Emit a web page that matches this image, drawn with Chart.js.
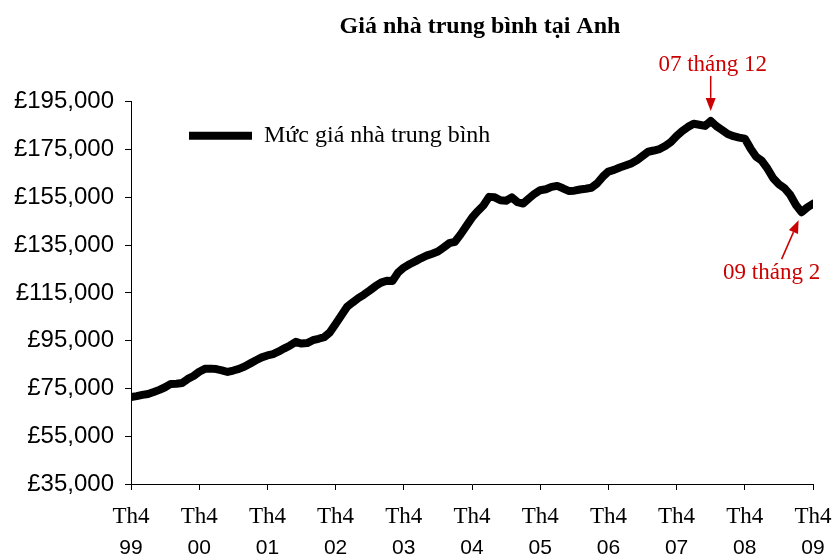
<!DOCTYPE html>
<html>
<head>
<meta charset="utf-8">
<title>Giá nhà trung bình tại Anh</title>
<script src="https://cdn.jsdelivr.net/npm/chart.js@4.4.1/dist/chart.umd.min.js"></script>
<style>
  html, body { margin: 0; padding: 0; background: #fff; }
  canvas { display: block; }
</style>
</head>
<body>
<canvas id="housePrice" width="832" height="558"></canvas>
<script>
const chartTitle = "Giá nhà trung bình tại Anh";
const seriesLabel = "Mức giá nhà trung bình";
const tickMonth = "Th4";
const tickYears = ["99", "00", "01", "02", "03", "04", "05", "06", "07", "08", "09"];
const yTicks = [35000, 55000, 75000, 95000, 115000, 135000, 155000, 175000, 195000];
const peakNote = "07 tháng 12";
const troughNote = "09 tháng 2";

// monthly average price, Th4 1999 .. Th4 2009
const prices = [
  71400, 71800, 72300, 72700, 73500, 74400, 75500, 76900, 77000, 77300, 79000, 80200,
  82000, 83200, 83300, 83100, 82600, 81900, 82500, 83200, 84200, 85500, 86800, 88000,
  88800, 89400, 90500, 91800, 93000, 94500, 93800, 94000, 95200, 95800, 96500, 98500,
  102000, 105500, 109100, 111000, 112800, 114300, 116000, 117800, 119300, 120100, 120000, 123500,
  125600, 127000, 128200, 129500, 130600, 131400, 132300, 134000, 135800, 136400, 139500, 143000,
  146500, 149200, 151600, 155200, 155000, 153800, 153600, 155000, 153000, 152400, 154500, 156500,
  158000, 158400, 159400, 159800, 158800, 157700, 157800, 158300, 158600, 159000, 160800, 163600,
  165800, 166500, 167500, 168300, 169200, 170500, 172300, 174100, 174600, 175200, 176500, 178200,
  180700, 182800, 184500, 185800, 185400, 184900, 187000, 184800, 183200, 181500, 180600, 180000,
  179600, 175500, 172000, 170300, 167000, 163000, 160500, 158800, 156000, 151800, 148800, 150800,
  152300
];

const serif = "'Liberation Serif', 'Times New Roman', serif";
const sans = "'Liberation Sans', Arial, sans-serif";
const noteRed = "#cc0000";

function drawArrow(ctx, x1, y1, x2, y2) {
  const a = Math.atan2(y2 - y1, x2 - x1);
  const len = 13, half = 5;
  const bx = x2 - Math.cos(a) * len;
  const by = y2 - Math.sin(a) * len;
  ctx.beginPath();
  ctx.moveTo(x1, y1);
  ctx.lineTo(bx, by);
  ctx.stroke();
  ctx.beginPath();
  ctx.moveTo(x2, y2);
  ctx.lineTo(bx + Math.sin(a) * half, by - Math.cos(a) * half);
  ctx.lineTo(bx - Math.sin(a) * half, by + Math.cos(a) * half);
  ctx.closePath();
  ctx.fill();
}

// red notes at the peak and at the low point after it
const notesPlugin = {
  id: "notes",
  afterDatasetsDraw(chart) {
    const ctx = chart.ctx;
    const pts = chart.getDatasetMeta(0).data;
    const peakIdx = prices.indexOf(Math.max(...prices));
    const troughIdx = prices.indexOf(Math.min(...prices.slice(peakIdx)), peakIdx);
    const peak = pts[peakIdx];
    const trough = pts[troughIdx];
    ctx.save();
    ctx.fillStyle = noteRed;
    ctx.strokeStyle = noteRed;
    ctx.lineWidth = 1.5;
    ctx.font = "23px " + serif;
    ctx.textAlign = "center";
    ctx.textBaseline = "alphabetic";
    ctx.fillText(peakNote, peak.x + 2, peak.y - 50);
    drawArrow(ctx, peak.x, peak.y - 45, peak.x, peak.y - 10);
    ctx.fillText(troughNote, trough.x - 30, trough.y + 67);
    drawArrow(ctx, trough.x - 20, trough.y + 47, trough.x - 3, trough.y + 8);
    ctx.restore();
  }
};

// legend inside the plot (top-left), title centred a bit right of the plot centre
const placeBoxes = {
  id: "placeBoxes",
  afterLayout(chart) {
    chart.legend.left = chart.chartArea.left + 58;
    chart.legend.top = chart.chartArea.top + 22;
    chart.titleBlock.left += 16;
  }
};

const yearTicks = (scale) => {
  scale.ticks = tickYears.map((y, i) => ({ value: i * 12 }));
};

const ctx = document.getElementById("housePrice").getContext("2d");
new Chart(ctx, {
  type: "line",
  data: {
    datasets: [
      {
        label: seriesLabel,
        data: prices.map((v, i) => ({ x: i, y: v })),
        borderColor: "#000",
        backgroundColor: "#000",
        borderWidth: 8,
        borderJoinStyle: "round",
        borderCapStyle: "round",
        tension: 0,
        pointRadius: 0,
        fill: false,
      },
    ],
  },
  options: {
    responsive: false,
    animation: false,
    layout: { padding: { left: 0, right: 19, top: 0, bottom: 0 } },
    plugins: {
      title: {
        display: true,
        fullSize: false,
        text: chartTitle,
        color: "#000",
        font: { family: serif, size: 24, weight: "bold" },
        padding: { top: 12, bottom: 61 },
      },
      legend: {
        position: "chartArea",
        align: "start",
        labels: {
          usePointStyle: true,
          pointStyle: "line",
          pointStyleWidth: 63,
          padding: 0,
          color: "#000",
          font: { family: serif, size: 24 },
        },
      },
      tooltip: { enabled: false },
    },
    scales: {
      x: {
        type: "linear",
        position: "bottom",
        min: 0,
        max: prices.length - 1,
        weight: 0,
        afterBuildTicks: yearTicks,
        afterFit: (scale) => {
          scale.paddingLeft = 0;
          scale.paddingRight = 0;
          scale.height = 43;
        },
        grid: { drawOnChartArea: false, color: "#000", tickLength: 6 },
        border: { color: "#000", width: 1 },
        ticks: {
          callback: () => tickMonth,
          color: "#000",
          font: { family: serif, size: 23, lineHeight: 1 },
          padding: 15,
          maxRotation: 0,
          autoSkip: false,
        },
      },
      years: {
        type: "linear",
        axis: "x",
        position: "bottom",
        min: 0,
        max: prices.length - 1,
        weight: 1,
        afterBuildTicks: yearTicks,
        afterFit: (scale) => {
          scale.paddingLeft = 0;
          scale.paddingRight = 0;
          scale.height = 31;
        },
        grid: { display: false, drawTicks: false },
        border: { display: false },
        ticks: {
          callback: (v) => tickYears[Math.round(v / 12)],
          color: "#000",
          font: { family: sans, size: 21, lineHeight: 1 },
          padding: 11,
          maxRotation: 0,
          autoSkip: false,
        },
      },
      y: {
        min: 35000,
        max: 195000,
        afterBuildTicks: (scale) => {
          scale.ticks = yTicks.map((v) => ({ value: v }));
        },
        afterFit: (scale) => {
          scale.width = 131;
        },
        grid: { drawOnChartArea: false, color: "#000", tickLength: 6 },
        border: { color: "#000", width: 1 },
        ticks: {
          callback: (v) => "£" + v.toLocaleString("en-GB"),
          color: "#000",
          font: { family: sans, size: 24 },
          padding: 11,
        },
      },
    },
  },
  plugins: [notesPlugin, placeBoxes],
});
</script>
</body>
</html>
